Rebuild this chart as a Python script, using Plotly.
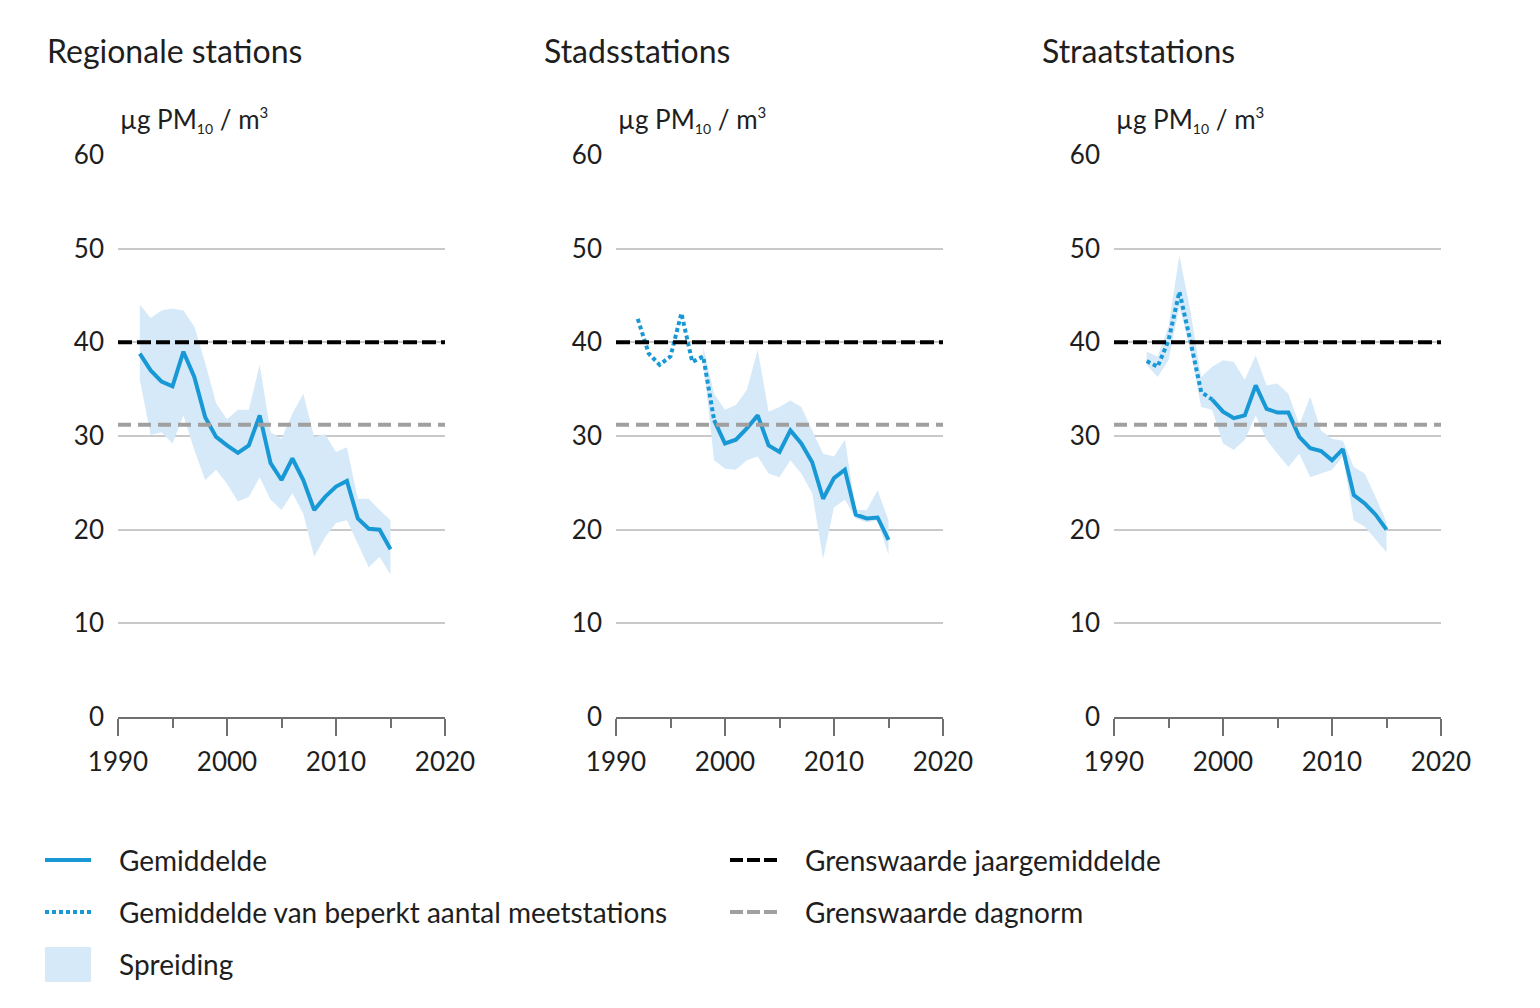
import plotly.graph_objects as go

# ---------------- data ----------------
panel_titles = ["Regionale stations", "Stadsstations", "Straatstations"]
unit_label = ('µg PM<sub><span style="font-size:14px">10</span></sub> / '
              'm<sup><span style="font-size:15px">3</span></sup>')

limit_year = 40      # Grenswaarde jaargemiddelde
limit_day = 31.2     # Grenswaarde dagnorm
limit_x = [1990, 2020]

# Regionale stations
reg_years = list(range(1992, 2016))
reg_mean = [38.8, 37.0, 35.8, 35.3, 39.0, 36.3, 32.0, 29.9, 29.0, 28.2, 29.0, 32.2,
            27.1, 25.3, 27.6, 25.3, 22.1, 23.5, 24.6, 25.2, 21.2, 20.1, 20.0, 17.9]
reg_upper = [44.0, 42.6, 43.4, 43.6, 43.4, 41.7, 37.8, 33.5, 31.8, 32.8, 32.8, 37.6,
             30.4, 29.7, 32.4, 34.5, 29.9, 30.2, 28.3, 28.8, 23.3, 23.3, 22.1, 21.0]
reg_lower = [36.0, 30.1, 30.4, 29.2, 32.2, 28.5, 25.3, 26.4, 24.9, 23.0, 23.5, 25.6,
             23.2, 22.1, 23.9, 21.7, 17.1, 19.2, 20.7, 21.0, 18.5, 16.0, 17.1, 15.2]
reg_dot_years = []
reg_dot = []

# Stadsstations
city_dot_years = list(range(1992, 2000))
city_dot = [42.5, 38.8, 37.6, 38.5, 43.1, 37.9, 38.5, 31.7]
city_years = list(range(1999, 2016))
city_mean = [31.7, 29.2, 29.6, 30.8, 32.2, 29.0, 28.3, 30.6, 29.2, 27.2, 23.3, 25.5,
             26.4, 21.6, 21.2, 21.3, 18.9]
city_band_years = list(range(1998, 2016))
city_upper = [39.5, 34.5, 32.8, 33.3, 34.9, 39.2, 32.6, 33.1, 33.8, 33.1, 30.6, 28.1,
              27.8, 29.6, 22.1, 22.1, 24.2, 21.0]
city_lower = [38.0, 27.4, 26.5, 26.4, 27.4, 27.8, 26.0, 25.6, 27.4, 26.0, 23.9, 16.9,
              22.4, 23.2, 21.2, 20.8, 21.0, 17.3]

# Straatstations
street_dot_years = list(range(1993, 2000))
street_dot = [38.0, 37.4, 40.2, 45.4, 40.2, 34.7, 33.9]
street_years = list(range(1999, 2016))
street_mean = [33.9, 32.6, 31.9, 32.2, 35.4, 32.9, 32.5, 32.5, 29.9, 28.7, 28.4, 27.4,
               28.6, 23.7, 22.8, 21.6, 20.0]
street_band_years = list(range(1993, 2016))
street_upper = [39.0, 38.5, 41.7, 49.3, 43.4, 36.3, 37.4, 38.1, 37.9, 36.0, 38.6, 35.4,
                35.6, 34.5, 31.2, 34.2, 30.6, 29.7, 29.5, 26.7, 26.0, 23.5, 20.8]
street_lower = [37.6, 36.3, 38.1, 43.8, 39.2, 33.1, 32.8, 29.2, 28.5, 29.6, 32.2, 29.6,
                28.1, 26.7, 28.1, 25.6, 26.0, 26.4, 27.8, 21.0, 20.3, 18.9, 17.6]

legend_left = ["Gemiddelde", "Gemiddelde van beperkt aantal meetstations", "Spreiding"]
legend_right = ["Grenswaarde jaargemiddelde", "Grenswaarde dagnorm"]

x_ticks = [1990, 2000, 2010, 2020]
y_ticks = [0, 10, 20, 30, 40, 50, 60]

panels = [
    dict(band_x=reg_years, up=reg_upper, lo=reg_lower, dx=reg_dot_years, dy=reg_dot,
         mx=reg_years, my=reg_mean),
    dict(band_x=city_band_years, up=city_upper, lo=city_lower, dx=city_dot_years, dy=city_dot,
         mx=city_years, my=city_mean),
    dict(band_x=street_band_years, up=street_upper, lo=street_lower, dx=street_dot_years,
         dy=street_dot, mx=street_years, my=street_mean),
]

# ---------------- style ----------------
PAGE_OFF = 8                      # default body margin of the html page
W, H = 1540 - 2 * PAGE_OFF, 1008 - 2 * PAGE_OFF
FONT = "Lato"
TXT = "#1e1e1e"
BLUE = "#1898d5"
BAND = "#d6e9f8"
GRID = "#c9c9c9"
AXIS = "#707070"
GREY_DASH = "#a0a0a0"


def px(xp):
    return (xp - PAGE_OFF) / W


def py(yp):
    return 1 - (yp - PAGE_OFF) / H


left_px = [118, 616, 1114]
plot_w = 327
y_dom = [py(717), py(155)]

fig = go.Figure()

for i, p in enumerate(panels):
    n = "" if i == 0 else str(i + 1)
    xa, ya = "x" + n, "y" + n
    # band
    fig.add_trace(go.Scatter(x=p["band_x"], y=p["up"], mode="lines", line=dict(width=0),
                             hoverinfo="skip", showlegend=False, xaxis=xa, yaxis=ya))
    fig.add_trace(go.Scatter(x=p["band_x"], y=p["lo"], mode="lines", line=dict(width=0),
                             fill="tonexty", fillcolor=BAND, hoverinfo="skip",
                             showlegend=False, xaxis=xa, yaxis=ya))
    # dotted mean
    if p["dx"]:
        fig.add_trace(go.Scatter(x=p["dx"], y=p["dy"], mode="lines",
                                 line=dict(color=BLUE, width=4, dash="4px,3px"),
                                 showlegend=False, xaxis=xa, yaxis=ya))
    # solid mean
    fig.add_trace(go.Scatter(x=p["mx"], y=p["my"], mode="lines",
                             line=dict(color=BLUE, width=4),
                             showlegend=False, xaxis=xa, yaxis=ya))
    # limits
    fig.add_trace(go.Scatter(x=limit_x, y=[limit_day] * 2, mode="lines",
                             line=dict(color=GREY_DASH, width=4, dash="13px,7px"),
                             showlegend=False, xaxis=xa, yaxis=ya))
    fig.add_trace(go.Scatter(x=limit_x, y=[limit_year] * 2, mode="lines",
                             line=dict(color="#000000", width=4, dash="14px,5px"),
                             showlegend=False, xaxis=xa, yaxis=ya))

    fig.update_layout(**{
        "xaxis" + n: dict(domain=[px(left_px[i]), px(left_px[i] + plot_w)], anchor=ya,
                          range=[1990, 2020], automargin=False,
                          tickvals=x_ticks, ticks="outside", ticklen=17, tickwidth=1.5,
                          tickcolor=AXIS, showline=True, linecolor=AXIS, linewidth=1.5,
                          showgrid=False, zeroline=False, ticklabelstandoff=4,
                          minor=dict(dtick=5, tick0=1990, ticks="outside", ticklen=9,
                                     tickwidth=1.5, tickcolor=AXIS, showgrid=False),
                          tickfont=dict(family=FONT, size=26, color=TXT)),
        "yaxis" + n: dict(domain=y_dom, anchor=xa, range=[0, 60], tickvals=y_ticks,
                          automargin=False,
                          showgrid=True, gridcolor=GRID, gridwidth=1.5, zeroline=False,
                          showline=False, ticks="", ticklabelstandoff=13,
                          tickfont=dict(family=FONT, size=26, color=TXT)),
    })

annotations = []
title_px = [45, 542, 1040]
for i in range(3):
    annotations.append(dict(text=panel_titles[i], x=px(title_px[i]), y=py(50),
                            xref="paper", yref="paper", xanchor="left", yanchor="middle",
                            showarrow=False, font=dict(family=FONT, size=32, color=TXT)))
    annotations.append(dict(text=unit_label, x=px(left_px[i]), y=py(120),
                            xref="paper", yref="paper", xanchor="left", yanchor="middle",
                            showarrow=False, font=dict(family=FONT, size=26, color=TXT)))

# legend (drawn manually)
shapes = []
rows = [860, 912, 964]
shapes.append(dict(type="line", xref="paper", yref="paper", x0=px(45), x1=px(91),
                   y0=py(rows[0]), y1=py(rows[0]), line=dict(color=BLUE, width=4)))
shapes.append(dict(type="line", xref="paper", yref="paper", x0=px(45), x1=px(91),
                   y0=py(rows[1]), y1=py(rows[1]),
                   line=dict(color=BLUE, width=4, dash="4px,3px")))
shapes.append(dict(type="rect", xref="paper", yref="paper", x0=px(45), x1=px(91),
                   y0=py(982), y1=py(947), line=dict(width=0), fillcolor=BAND))
shapes.append(dict(type="line", xref="paper", yref="paper", x0=px(730), x1=px(778),
                   y0=py(rows[0]), y1=py(rows[0]),
                   line=dict(color="#000000", width=4, dash="13px,4px")))
shapes.append(dict(type="line", xref="paper", yref="paper", x0=px(730), x1=px(778),
                   y0=py(rows[1]), y1=py(rows[1]),
                   line=dict(color=GREY_DASH, width=4, dash="13px,4px")))
for j, t in enumerate(legend_left):
    annotations.append(dict(text=t, x=px(117), y=py(rows[j]), xref="paper",
                            yref="paper", xanchor="left", yanchor="middle", showarrow=False,
                            font=dict(family=FONT, size=28, color=TXT)))
for j, t in enumerate(legend_right):
    annotations.append(dict(text=t, x=px(803), y=py(rows[j]), xref="paper",
                            yref="paper", xanchor="left", yanchor="middle", showarrow=False,
                            font=dict(family=FONT, size=28, color=TXT)))

fig.update_layout(width=W, height=H, margin=dict(l=0, r=0, t=0, b=0, autoexpand=False),
                  paper_bgcolor="white", plot_bgcolor="white", showlegend=False,
                  annotations=annotations, shapes=shapes,
                  font=dict(family=FONT, color=TXT))

fig.write_html("out.html")
